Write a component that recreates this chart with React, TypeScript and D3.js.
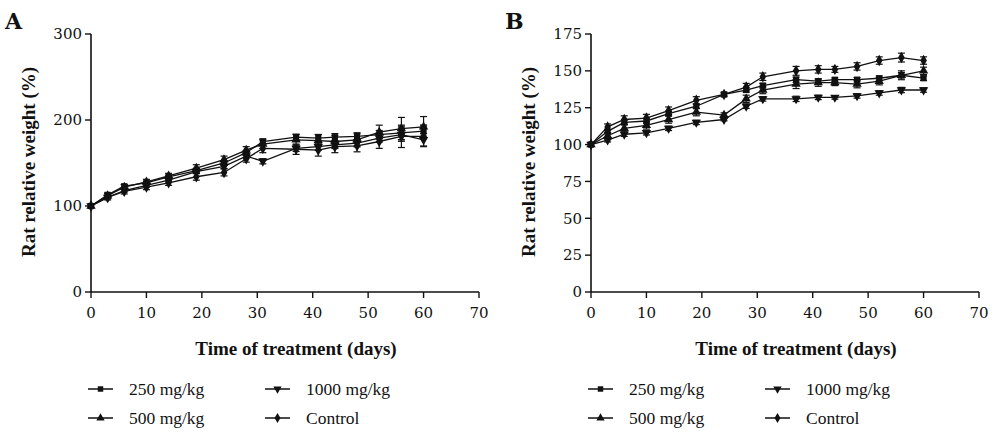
import React from 'react';
import * as d3 from 'd3';

const days = [0, 3, 6, 10, 14, 19, 24, 28, 31, 37, 41, 44, 48, 52, 56, 60];
const seriesNames = ['250 mg/kg', '500 mg/kg', '1000 mg/kg', 'Control'];

// Panel A values (% of initial weight)
const a250 = [100, 113, 123, 127, 134, 141, 150, 162, 175, 180, 179, 180, 181, 183, 185, 187];
const a500 = [100, 112, 122, 128, 135, 144, 154, 165, 172, 177, 176, 175, 177, 186, 190, 192];
const a1000 = [100, 110, 118, 124, 130, 140, 146, 158, 152, 167, 169, 171, 173, 179, 183, 177];
const aControl = [100, 110, 117, 122, 127, 134, 139, 155, 167, 166, 165, 169, 170, 175, 181, 181];
const aErr = [1, 3, 3, 3, 3, 4, 4, 4, 5, 6, 7, 7, 7, 8, 13, 12];

// Panel B values
const b250 = [100, 109, 115, 116, 121, 126, 134, 137, 140, 144, 143, 144, 144, 145, 147, 145];
const b500 = [100, 106, 111, 113, 117, 122, 120, 131, 137, 141, 142, 142, 141, 143, 147, 150];
const b1000 = [100, 103, 107, 108, 111, 115, 117, 126, 131, 131, 132, 132, 133, 135, 137, 137];
const bControl = [100, 112, 117, 118, 123, 130, 134, 139, 146, 150, 151, 151, 153, 157, 159, 157];
const bErr = [1, 2, 2.5, 2.5, 2.5, 2.5, 1.5, 2.5, 2.5, 3, 2.5, 2, 2.5, 2.5, 3, 2.5];

const xTicks = [0, 10, 20, 30, 40, 50, 60, 70];
const aYTicks = [0, 100, 200, 300];
const bYTicks = [0, 25, 50, 75, 100, 125, 150, 175];

const markerTypes = [d3.symbolSquare, d3.symbolTriangle, d3.symbolTriangle, d3.symbolDiamond];
const ink = '#111';
const serif = '"DejaVu Serif", serif';
const condensed = '"Liberation Serif", serif';

const Marker = ({ i, x, y, size = 38 }: { i: number; x: number; y: number; size?: number }) => {
  const path = d3.symbol().type(markerTypes[i]).size(size)() || '';
  const rot = i === 2 ? 180 : 0;
  return <path d={path} transform={`translate(${x},${y}) rotate(${rot})`} fill={ink} />;
};

interface PanelProps {
  left: number;
  letter: string;
  yMax: number;
  yTicks: number[];
  series: number[][];
  err: number[];
}

const Panel = ({ left, letter, yMax, yTicks, series, err }: PanelProps) => {
  const x = d3.scaleLinear().domain([0, 70]).range([left + 91, left + 479]);
  const y = d3.scaleLinear().domain([0, yMax]).range([292, 34]);
  const line = d3.line<number>().x((_, i) => x(days[i])).y(d => y(d));
  const midX = (x(0) + x(70)) / 2;

  return (
    <g>
      <text x={left + 5} y={29} fontFamily={serif} fontWeight="bold" fontSize={22} fill={ink}>{letter}</text>
      {/* axes */}
      <line x1={x(0)} x2={x(0)} y1={y(yMax)} y2={y(0)} stroke={ink} strokeWidth={1.6} />
      <line x1={x(0)} x2={x(70)} y1={y(0)} y2={y(0)} stroke={ink} strokeWidth={1.6} />
      {yTicks.map(t => (
        <g key={t}>
          <line x1={x(0) - 6} x2={x(0)} y1={y(t)} y2={y(t)} stroke={ink} strokeWidth={1.4} />
          <text x={x(0) - 9} y={y(t)} dy="0.35em" textAnchor="end" fontFamily={serif} fontSize={15} fill={ink}>{t}</text>
        </g>
      ))}
      {xTicks.map(t => (
        <g key={t}>
          <line x1={x(t)} x2={x(t)} y1={y(0)} y2={y(0) + 6} stroke={ink} strokeWidth={1.4} />
          <text x={x(t)} y={y(0) + 26} textAnchor="middle" fontFamily={serif} fontSize={15} fill={ink}>{t}</text>
        </g>
      ))}
      <text transform={`translate(${left + 35},${162}) rotate(-90)`} textAnchor="middle" fontFamily={condensed}
        fontWeight="bold" fontSize={19} fill={ink}>Rat relative weight (%)</text>
      <text x={midX + 11} y={355} textAnchor="middle" fontFamily={condensed} fontWeight="bold" fontSize={19} fill={ink}>
        Time of treatment (days)
      </text>
      {/* data */}
      {series.map((s, si) => (
        <g key={si}>
          <path d={line(s) || ''} fill="none" stroke={ink} strokeWidth={1.3} />
          {s.map((v, i) => {
            const e = si === 3 || si === 1 ? err[i] : err[i] * 0.6;
            if (i === 0) return null;
            return (
              <g key={i} stroke={ink} strokeWidth={1.2}>
                <line x1={x(days[i])} x2={x(days[i])} y1={y(v - e)} y2={y(v + e)} />
                <line x1={x(days[i]) - 3.5} x2={x(days[i]) + 3.5} y1={y(v + e)} y2={y(v + e)} />
                <line x1={x(days[i]) - 3.5} x2={x(days[i]) + 3.5} y1={y(v - e)} y2={y(v - e)} />
              </g>
            );
          })}
          {s.map((v, i) => <Marker key={i} i={si} x={x(days[i])} y={y(v)} />)}
        </g>
      ))}
      {/* legend */}
      {seriesNames.map((name, i) => {
        const col = i === 2 || i === 3 ? 1 : 0;
        const row = i === 1 || i === 3 ? 1 : 0;
        const lx = left + 88 + col * 177;
        const ly = 389 + row * 29;
        return (
          <g key={name}>
            <line x1={lx} x2={lx + 25} y1={ly} y2={ly} stroke={ink} strokeWidth={1.5} />
            <Marker i={i} x={lx + 12.5} y={ly} size={30} />
            <text x={lx + 41} y={ly} dy="0.35em" fontFamily={condensed} fontSize={17.5} fill={ink}>{name}</text>
          </g>
        );
      })}
    </g>
  );
};

export default function App() {
  return (
    <svg width={1000} height={442} style={{ position: 'absolute', left: 0, top: 0, background: '#fff' }}>
      <rect width={1000} height={442} fill="#fff" />
      <Panel left={0} letter="A" yMax={300} yTicks={aYTicks} series={[a250, a500, a1000, aControl]} err={aErr} />
      <Panel left={500} letter="B" yMax={175} yTicks={bYTicks} series={[b250, b500, b1000, bControl]} err={bErr} />
    </svg>
  );
}
